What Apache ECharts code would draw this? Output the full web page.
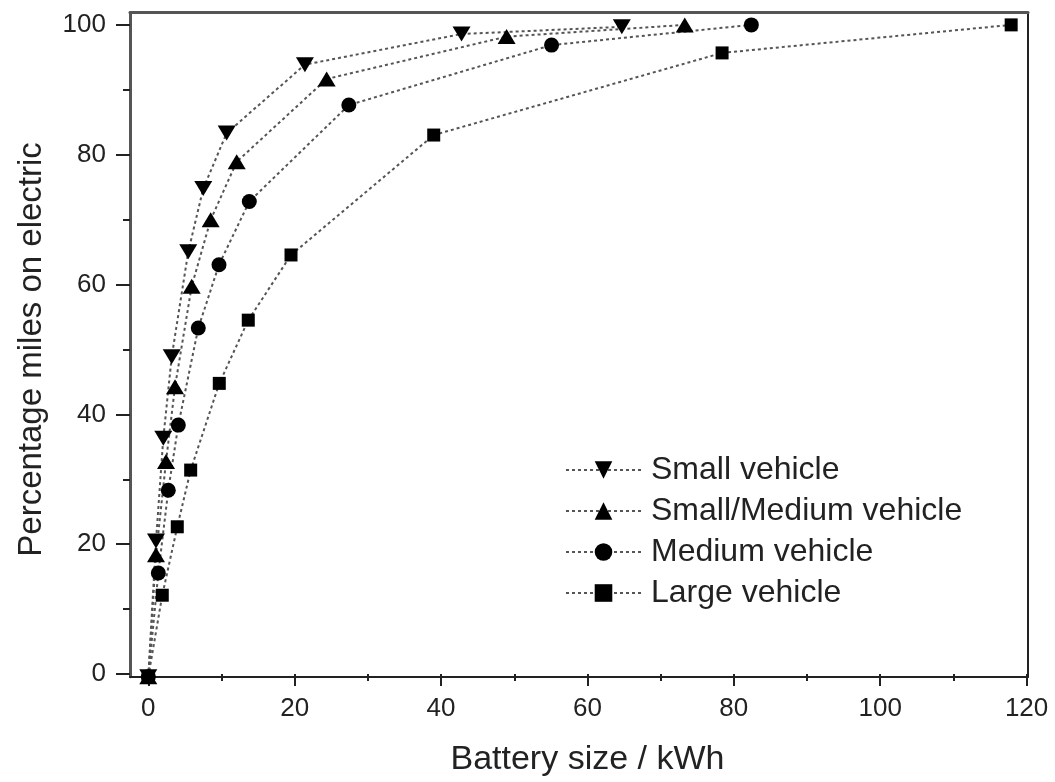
<!DOCTYPE html>
<html><head><meta charset="utf-8">
<script src="https://cdn.jsdelivr.net/npm/echarts@6/dist/echarts.min.js"></script>
<style>html,body{margin:0;padding:0;background:#fff}#c{width:1055px;height:782px}</style>
</head><body><div id="c"></div>
<script>
// ---- data ----
const seriesNames = ['Small vehicle', 'Small/Medium vehicle', 'Medium vehicle', 'Large vehicle'];
const smallX  = [0, 1.05, 2.05, 3.2, 5.46, 7.51, 10.71, 21.4, 42.8, 64.7];
const smallY  = [0, 20.8, 36.6, 49.1, 65.2, 74.9, 83.4, 93.9, 98.6, 99.7];
const smallMedX = [0, 1.05, 2.42, 3.65, 5.93, 8.52, 12.08, 24.37, 48.96, 73.3];
const smallMedY = [0, 18.7, 33.0, 44.5, 59.9, 70.1, 79.0, 91.7, 98.2, 100.0];
const mediumX = [0, 1.37, 2.73, 4.1, 6.83, 9.66, 13.8, 27.4, 55.1, 82.4];
const mediumY = [0, 15.9, 28.6, 38.6, 53.5, 63.2, 72.9, 87.7, 96.9, 100.0];
const largeX  = [0, 1.91, 3.96, 5.79, 9.7, 13.66, 19.5, 39.0, 78.4, 117.9];
const largeY  = [0, 12.5, 23.0, 31.7, 45.0, 54.7, 64.7, 83.1, 95.7, 100.0];
const xTickLabels = [0, 20, 40, 60, 80, 100, 120];
const yTickLabels = [0, 20, 40, 60, 80, 100];
const xTitle = 'Battery size / kWh';
const yTitle = 'Percentage miles on electric';

function pairs(xs, ys) { return xs.map((x, i) => [x, ys[i]]); }

const FONT = '"Liberation Sans", Arial, sans-serif';
const TXT = '#222';
const lineStyle = { color: '#555', width: 2, type: [3, 3] };

const seriesCfg = [
  { name: seriesNames[0], data: pairs(smallX, smallY), symbol: 'triangle', symbolRotate: 180, symbolSize: [18, 15] },
  { name: seriesNames[1], data: pairs(smallMedX, smallMedY), symbol: 'triangle', symbolRotate: 0, symbolSize: [18, 15] },
  { name: seriesNames[2], data: pairs(mediumX, mediumY), symbol: 'circle', symbolRotate: 0, symbolSize: 15 },
  { name: seriesNames[3], data: pairs(largeX, largeY), symbol: 'rect', symbolRotate: 0, symbolSize: 13 }
];

const chart = echarts.init(document.getElementById('c'), null, { renderer: 'canvas' });

function frameAxis(extra, color, width) {
  return Object.assign({
    type: 'value', gridIndex: 0,
    axisLine: { show: true, onZero: false, lineStyle: { color: color, width: width } },
    axisTick: { show: false }, axisLabel: { show: false }, splitLine: { show: false }
  }, extra);
}

const option = {
  animation: false,
  backgroundColor: '#fff',
  grid: [
    { left: 130, right: 27, top: 12.5, bottom: 105.3, show: false },
    { left: 148.3, right: 28.4, top: 24.9, bottom: 105.3, show: false }
  ],
  xAxis: [
    frameAxis({ position: 'bottom', min: -2.5, max: 120.2 }, '#222', 2),
    frameAxis({ position: 'top', min: -2.5, max: 120.2 }, '#555', 3),
    {
      type: 'value', gridIndex: 1, position: 'bottom',
      min: xTickLabels[0], max: xTickLabels[xTickLabels.length - 1], interval: 20,
      axisLine: { show: false, onZero: false },
      axisTick: { show: true, inside: false, length: 12, lineStyle: { color: '#222', width: 2 } },
      minorTick: { show: true, splitNumber: 2, length: 7, lineStyle: { color: '#222', width: 2 } },
      splitLine: { show: false }, minorSplitLine: { show: false },
      axisLabel: { show: true, margin: 22, color: TXT, fontFamily: FONT, fontSize: 26 },
      name: xTitle, nameLocation: 'middle', nameGap: 69,
      nameTextStyle: { color: TXT, fontFamily: FONT, fontSize: 34 }
    }
  ],
  yAxis: [
    frameAxis({ position: 'left', min: 0, max: 101.9 }, '#555', 3),
    frameAxis({ position: 'right', min: 0, max: 101.9 }, '#222', 2),
    {
      type: 'value', gridIndex: 1, position: 'left', offset: 18.3,
      min: yTickLabels[0], max: yTickLabels[yTickLabels.length - 1], interval: 20,
      axisLine: { show: false, onZero: false },
      axisTick: { show: true, inside: false, length: 14, lineStyle: { color: '#222', width: 2 } },
      minorTick: { show: true, splitNumber: 2, length: 7, lineStyle: { color: '#222', width: 2 } },
      splitLine: { show: false }, minorSplitLine: { show: false },
      axisLabel: { show: true, margin: 24, color: TXT, fontFamily: FONT, fontSize: 26 },
      name: yTitle, nameLocation: 'middle', nameGap: 82, nameRotate: 90,
      nameTextStyle: { color: TXT, fontFamily: FONT, fontSize: 33 }
    }
  ],
  legend: {
    orient: 'vertical', left: 565, top: 454, padding: 0,
    itemWidth: 75, itemHeight: 22, itemGap: 9,
    textStyle: { color: TXT, fontFamily: FONT, fontSize: 32, padding: [0, 0, 0, 5] },
    data: seriesNames
  },
  series: seriesCfg.map(s => ({
    type: 'line', name: s.name, xAxisIndex: 0, yAxisIndex: 0,
    data: s.data, symbol: s.symbol, symbolRotate: s.symbolRotate, symbolSize: s.symbolSize,
    showAllSymbol: true, clip: false,
    lineStyle: lineStyle,
    itemStyle: { color: '#000', borderWidth: 0 }
  }))
};
chart.setOption(option);
</script>
</body></html>
